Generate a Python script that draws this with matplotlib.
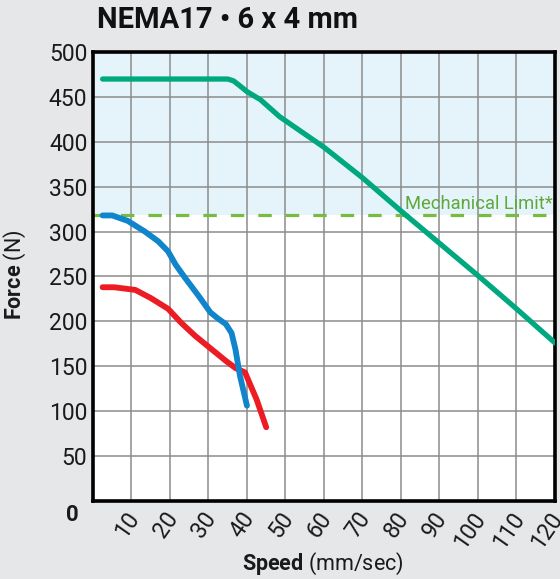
import matplotlib.pyplot as plt
import matplotlib.transforms as mtransforms
import numpy as np

plt.rcParams['font.family'] = ['Roboto', 'DejaVu Sans']
plt.rcParams['mathtext.fontset'] = 'custom'
plt.rcParams['mathtext.rm'] = 'Roboto'
plt.rcParams['mathtext.bf'] = 'Roboto:bold'

# curves (speed in mm/sec, force in N)
teal_speed = [2.5, 35, 36.5, 38, 40, 43.5, 48.5, 60, 70, 80, 90, 100, 110, 120]
teal_force = [470, 470, 468, 463, 456, 447, 428, 394, 360, 323, 287, 251, 214, 176]

blue_speed = [2.5, 5, 9, 13.5, 17, 19.5, 21.5, 24, 27.5, 30.5, 32.5, 34.5, 36, 37, 38.2, 40]
blue_force = [318, 318, 312, 300, 289, 278, 263, 248, 228, 210, 203, 197, 187, 169, 139, 106]

red_speed = [2.5, 5.5, 11, 15, 19.5, 23, 26.5, 30.5, 34.5, 37, 39.5, 41, 42.5, 45]
red_force = [238, 238, 235, 226, 214, 198, 184, 170, 156, 148, 143, 128, 113, 82]

mech_limit = 318
x_ticks = [10, 20, 30, 40, 50, 60, 70, 80, 90, 100, 110, 120]
y_ticks = [50, 100, 150, 200, 250, 300, 350, 400, 450, 500]

fig = plt.figure(figsize=(5.6, 5.79), dpi=100, facecolor='#e6e7e9')
ax = fig.add_axes([0.166, 0.135, 0.825, 0.775])
ax.set_facecolor('white')

ax.axhspan(mech_limit, 500, color='#e5f4fb', zorder=0, lw=0)
ax.grid(True, color='#8c8c8c', lw=1.1, zorder=1)
ax.set_axisbelow(True)

ax.axhline(mech_limit, color='#77bb41', lw=2.3, dashes=(4.2, 4.4), zorder=2)
ax.text(119.5, mech_limit + 3, 'Mechanical Limit*', color='#5fa83a', fontsize=13.2,
        ha='right', va='bottom', zorder=3)

ax.plot(teal_speed, teal_force, color='#00a87f', lw=3.8, solid_capstyle='round',
        solid_joinstyle='round', zorder=4)
ax.plot(red_speed, red_force, color='#ec1c24', lw=4.2, solid_capstyle='round',
        solid_joinstyle='round', zorder=4)
ax.plot(blue_speed, blue_force, color='#1185cc', lw=4.2, solid_capstyle='round',
        solid_joinstyle='round', zorder=5)

ax.set_xlim(0, 120)
ax.set_ylim(0, 500)
ax.set_xticks(x_ticks)
ax.set_yticks(y_ticks)
ax.set_xticklabels([str(t) for t in x_ticks], rotation=55, ha='right', va='center',
                   rotation_mode='anchor', fontsize=16.5, color='#1a1a1a')
ax.set_yticklabels([str(t) for t in y_ticks], fontsize=16.5, color='#1a1a1a')
ax.tick_params(axis='both', length=0)
ax.tick_params(axis='x', pad=10)
ax.tick_params(axis='y', pad=4)

# nudge rotated x labels a little to the right, like the reference
shift = mtransforms.ScaledTranslation(3 / 100, 0, fig.dpi_scale_trans)
for lbl in ax.get_xticklabels():
    lbl.set_transform(lbl.get_transform() + shift)

ax.annotate('0', xy=(0, 0), xytext=(-15, -10), textcoords='offset points',
            ha='center', va='center', fontsize=16, fontweight='bold', color='#1a1a1a')

for s in ax.spines.values():
    s.set_linewidth(2.6)
    s.set_color('black')

fig.text(0.576, 0.026, r'$\mathbf{Speed}$ (mm/sec)', fontsize=15.5, color='#1a1a1a',
         ha='center', va='center')
fig.text(0.027, 0.525, r'$\mathbf{Force}$ (N)', fontsize=15.5, color='#1a1a1a',
         ha='center', va='center', rotation=90)

fig.text(0.173, 0.965, 'NEMA17 \u2022 6 x 4 mm', fontsize=21, fontweight='bold',
         ha='left', va='center', color='#111111')

fig.savefig('out.png', dpi=100, facecolor=fig.get_facecolor())
